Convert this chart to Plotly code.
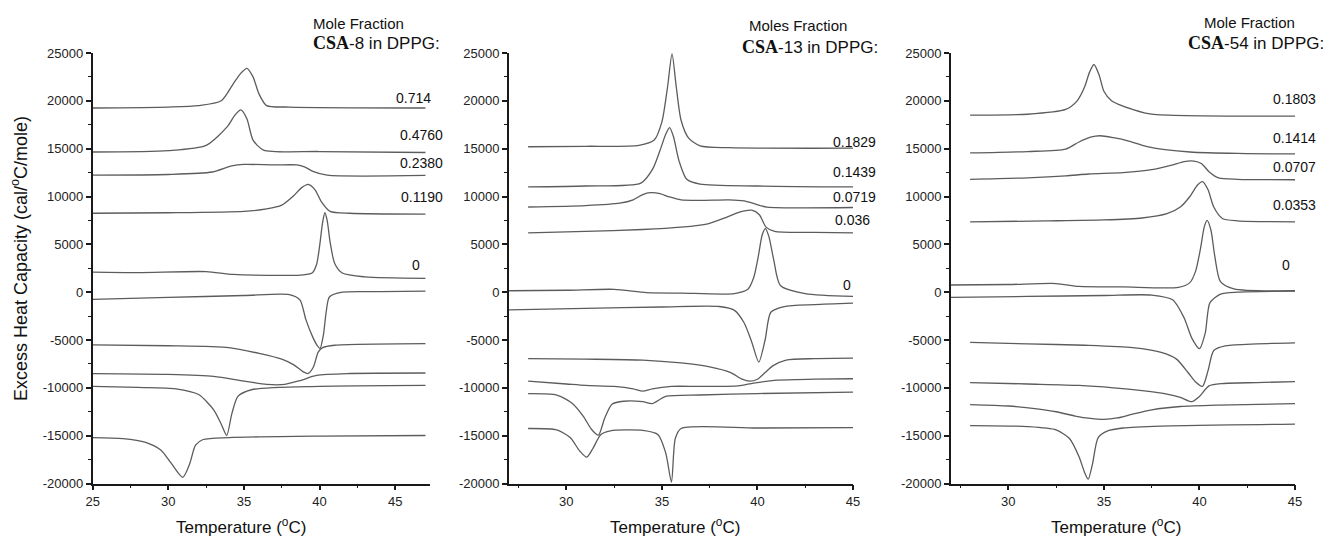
import plotly.graph_objects as go

# ---------------- data (Temperature degC, Cp cal/degC/mole) ----------------
# Panel 1: CSA-8 in DPPG
CSA8_H_0714 = [(25,19250),(30,19350),(32,19500),(33.5,20000),(34.3,21800),(34.8,22900),(35.2,23400),(35.6,22500),(36.0,20700),(36.5,19500),(38,19350),(47,19250)]
CSA8_H_4760 = [(25,14650),(30,14800),(32.5,15350),(33.9,17300),(34.4,18500),(34.8,19050),(35.2,18100),(35.6,15900),(36.3,14850),(40,14700),(47,14600)]
CSA8_H_2380 = [(25,12230),(30,12300),(32.9,12560),(34.2,13200),(35,13350),(37,13300),(38.5,13300),(39,13100),(39.6,12600),(40.5,12230),(47,12200)]
CSA8_H_1190 = [(25,8250),(30,8300),(35,8450),(36.5,8700),(37.5,9100),(38.3,10100),(38.8,10900),(39.25,11260),(39.7,10700),(40.1,9500),(40.7,8450),(42,8250),(47,8150)]
CSA8_H_0 = [(25,2100),(28,2050),(32.5,2150),(34.3,1850),(38.7,1780),(39.5,2000),(39.8,2900),(40.0,4800),(40.2,7300),(40.35,8300),(40.5,7500),(40.7,5200),(41.0,3000),(41.5,2000),(43,1600),(47,1450)]
CSA8_C_0 = [(25,-750),(30,-550),(35,-350),(38,-250),(38.7,-800),(39.1,-2900),(39.55,-4700),(39.85,-5600),(40.03,-5900),(40.25,-4500),(40.45,-1900),(40.65,-500),(41.5,0),(44,50),(47,100)]
CSA8_C_1190 = [(25,-5500),(30,-5600),(34,-5800),(36,-6400),(37.5,-7000),(38.3,-7600),(38.9,-8300),(39.25,-8500),(39.6,-7800),(39.9,-6300),(40.2,-5800),(41,-5550),(47,-5380)]
CSA8_C_2380 = [(25,-8520),(30,-8600),(33,-8800),(35,-9300),(36.5,-9640),(37.7,-9640),(38.7,-9250),(39.8,-8700),(42,-8500),(47,-8450)]
CSA8_C_4760 = [(25,-9850),(28,-9950),(30.5,-10100),(32,-10700),(33,-12300),(33.5,-13800),(33.86,-14980),(34.2,-12700),(34.6,-10900),(35.5,-10200),(40,-9850),(47,-9750)]
CSA8_C_0714 = [(25,-15200),(27,-15300),(28.5,-15700),(29.5,-16500),(30.2,-17900),(30.95,-19350),(31.4,-18000),(31.8,-16000),(32.3,-15400),(34,-15200),(40,-15050),(47,-14980)]

# Panel 2: CSA-13 in DPPG
CSA13_H_1829 = [(28,15200),(31,15250),(33.8,15350),(34.6,15900),(35.0,17800),(35.3,21500),(35.53,24900),(35.75,21500),(36.0,18000),(36.4,16100),(37,15300),(38.5,15100),(45,15050)]
CSA13_H_1439 = [(28,11000),(31,11100),(33.9,11400),(34.5,12800),(34.9,14800),(35.2,16500),(35.4,17200),(35.6,16300),(35.9,13700),(36.3,11800),(37,11300),(40,11100),(45,11000)]
CSA13_H_0719 = [(28,8900),(31,9050),(32.8,9300),(33.5,9650),(34.0,10200),(34.4,10400),(34.9,10300),(35.4,9950),(36.0,9650),(37,9600),(38.5,9650),(39.3,9550),(39.9,9200),(40.5,8900),(45,8850)]
CSA13_H_036 = [(28,6200),(31,6350),(34,6550),(36,6800),(37.4,7150),(38.4,7850),(39.1,8400),(39.7,8570),(40.1,8100),(40.45,6800),(40.9,6350),(43,6250),(45,6200)]
CSA13_H_0 = [(27,150),(30,200),(32.5,300),(34.2,-50),(36,-100),(38.8,-150),(39.5,300),(39.8,1500),(40.05,3800),(40.25,6000),(40.42,6650),(40.6,5800),(40.85,3400),(41.2,700),(42.5,-150),(45,-450)]
CSA13_C_0 = [(27,-1850),(31,-1700),(35,-1550),(38,-1500),(38.8,-1900),(39.3,-3200),(39.7,-5200),(40.07,-7300),(40.4,-5000),(40.7,-2100),(41.4,-1500),(43,-1300),(45,-1150)]
CSA13_C_036 = [(28,-6950),(31,-7000),(34,-7100),(36,-7400),(37.5,-7800),(38.6,-8400),(39.2,-9100),(39.6,-9300),(40.0,-9100),(40.4,-8400),(40.8,-7700),(41.5,-7100),(43,-6950),(45,-6900)]
CSA13_C_0719 = [(28,-9300),(30,-9600),(31,-9750),(32.5,-9850),(33.5,-10100),(34.0,-10350),(34.5,-10100),(35.5,-9850),(37,-9850),(39,-9800),(39.8,-9500),(41,-9200),(43,-9100),(45,-9050)]
CSA13_C_1439 = [(28,-10600),(29.5,-10750),(30.3,-11600),(30.9,-13000),(31.3,-14300),(31.68,-14950),(32.0,-13200),(32.4,-11700),(33,-11400),(34.0,-11450),(34.5,-11650),(35.2,-10900),(37,-10750),(40,-10600),(45,-10450)]
CSA13_C_1829 = [(28,-14250),(29.5,-14400),(30.2,-15200),(30.7,-16600),(31.07,-17250),(31.4,-16300),(31.8,-14900),(32.3,-14500),(34,-14450),(34.8,-14900),(35.2,-16800),(35.5,-19850),(35.7,-15300),(36.0,-14250),(40,-14200),(45,-14150)]

# Panel 3: CSA-54 in DPPG
CSA54_H_1803 = [(28,18500),(31,18600),(33,19100),(33.6,20000),(34.0,21500),(34.25,23000),(34.48,23800),(34.75,22700),(35.0,21000),(35.4,20000),(35.8,19600),(36.5,19100),(37.5,18600),(45,18400)]
CSA54_H_1414 = [(28,14550),(31,14700),(33.0,14950),(33.7,15700),(34.3,16200),(34.8,16350),(35.5,16150),(36.3,15800),(37.2,15250),(38.2,14900),(39.5,14650),(42,14500),(45,14450)]
CSA54_H_0707 = [(28,11800),(31,11950),(33,12150),(34.2,12350),(36,12500),(37.5,12800),(38.5,13250),(39.2,13650),(39.7,13700),(40.1,13450),(40.5,12600),(41.0,11950),(42,11800),(45,11750)]
CSA54_H_0353 = [(28,7350),(32,7450),(35,7550),(37,7750),(38.3,8200),(39.0,8900),(39.5,10000),(39.9,11200),(40.16,11550),(40.45,10700),(40.75,8900),(41.2,7700),(42,7450),(45,7350)]
CSA54_H_0 = [(27,750),(30,800),(32.5,900),(33.7,600),(36,550),(38.9,500),(39.5,1000),(39.8,2200),(40.05,4500),(40.25,6800),(40.4,7500),(40.6,6500),(40.8,3800),(41.1,1100),(41.8,350),(45,150)]
CSA54_C_0 = [(27,-550),(31,-450),(35,-350),(37.5,-300),(38.6,-800),(39.2,-2700),(39.6,-4800),(40.0,-5900),(40.3,-4300),(40.55,-1100),(41.1,-200),(42,0),(45,100)]
CSA54_C_0353 = [(28,-5250),(31,-5400),(34,-5550),(36.5,-5800),(38,-6300),(38.8,-7000),(39.4,-8400),(39.8,-9400),(40.16,-9850),(40.45,-8200),(40.75,-6100),(41.4,-5600),(43,-5400),(45,-5300)]
CSA54_C_0707 = [(28,-9450),(31,-9600),(33.7,-9750),(35.5,-10000),(37,-10300),(38.3,-10650),(39.0,-11000),(39.6,-11450),(40.0,-10900),(40.5,-9800),(41.2,-9550),(43,-9450),(45,-9350)]
CSA54_C_1414 = [(28,-11750),(30,-11900),(31.5,-12200),(32.5,-12500),(33.5,-12950),(34.3,-13200),(35.0,-13300),(35.7,-13150),(36.5,-12750),(37.5,-12300),(39,-11950),(41,-11800),(45,-11650)]
CSA54_C_1803 = [(28,-13950),(31,-14050),(32.5,-14400),(33.2,-15300),(33.7,-17200),(34.0,-18900),(34.18,-19550),(34.4,-18000),(34.7,-15200),(35.2,-14500),(36,-14200),(38,-14000),(45,-13800)]

PANEL_CURVES = [
    [CSA8_H_0714, CSA8_H_4760, CSA8_H_2380, CSA8_H_1190, CSA8_H_0,
     CSA8_C_0, CSA8_C_1190, CSA8_C_2380, CSA8_C_4760, CSA8_C_0714],
    [CSA13_H_1829, CSA13_H_1439, CSA13_H_0719, CSA13_H_036, CSA13_H_0,
     CSA13_C_0, CSA13_C_036, CSA13_C_0719, CSA13_C_1439, CSA13_C_1829],
    [CSA54_H_1803, CSA54_H_1414, CSA54_H_0707, CSA54_H_0353, CSA54_H_0,
     CSA54_C_0, CSA54_C_0353, CSA54_C_0707, CSA54_C_1414, CSA54_C_1803],
]

LABELS_CSA8 = ["0.714", "0.4760", "0.2380", "0.1190", "0"]
LABELS_CSA13 = ["0.1829", "0.1439", "0.0719", "0.036", "0"]
LABELS_CSA54 = ["0.1803", "0.1414", "0.0707", "0.0353", "0"]

HEADER_TOP = ["Mole Fraction", "Moles Fraction", "Mole Fraction"]
HEADER_CSA = ["8", "13", "54"]

X_TICKS = [25, 30, 35, 40, 45]
Y_TICKS = [-20000, -15000, -10000, -5000, 0, 5000, 10000, 15000, 20000, 25000]
Y_TICK_TEXT = [str(v) for v in Y_TICKS]
X_RANGES = [[25, 47.3], [27, 45], [27, 45]]
Y_RANGE = [-20000, 25000]

# the page body keeps the browser's 8px margin: size the figure so it fills the window
OFF = 8
W, H = 1333 - OFF, 537 - OFF
def px(x):
    return (x - OFF) / W
def py(y):
    return 1 - (y - OFF) / H

FONT = "Arial, Liberation Sans, sans-serif"
SERIF = "Liberation Serif, Times New Roman, serif"
LINE_COLOR = "#5c5c5c"
AXIS_COLOR = "#1a1a1a"

X_DOMAINS = [[px(92.7), px(430)], [px(509), px(853)], [px(951), px(1295)]]
Y_DOMAIN = [py(483.5), py(53)]

fig = go.Figure()

for i, curves in enumerate(PANEL_CURVES):
    xa = "x" if i == 0 else f"x{i+1}"
    ya = "y" if i == 0 else f"y{i+1}"
    for c in curves:
        fig.add_trace(go.Scatter(
            x=[p[0] for p in c], y=[p[1] for p in c],
            mode="lines", line=dict(color=LINE_COLOR, width=1.3, shape="spline", smoothing=0.7),
            xaxis=xa, yaxis=ya, showlegend=False, hoverinfo="skip"))

axis_common = dict(
    showline=True, linecolor=AXIS_COLOR, linewidth=1.8,
    ticks="outside", ticklen=5, tickwidth=1.5, tickcolor=AXIS_COLOR,
    showgrid=False, zeroline=False, automargin=False,
    tickfont=dict(family=FONT, size=13, color="#222"),
)

layout = dict(width=W, height=H, autosize=False,
              margin=dict(l=0, r=0, t=0, b=0, pad=0, autoexpand=False),
              paper_bgcolor="white", plot_bgcolor="white", showlegend=False)
for i in range(3):
    sx = "" if i == 0 else str(i + 1)
    layout[f"xaxis{sx}"] = dict(
        axis_common, domain=X_DOMAINS[i], range=X_RANGES[i], anchor=f"y{sx}",
        tickvals=X_TICKS, ticktext=[str(t) for t in X_TICKS],
        minor=dict(ticks="outside", ticklen=3, tickwidth=1.3, tickcolor=AXIS_COLOR, dtick=2.5, tick0=25))
    layout[f"yaxis{sx}"] = dict(
        axis_common, domain=Y_DOMAIN, range=Y_RANGE, anchor=f"x{sx}",
        tickvals=Y_TICKS, ticktext=Y_TICK_TEXT,
        minor=dict(ticks="outside", ticklen=3, tickwidth=1.3, tickcolor=AXIS_COLOR, dtick=2500, tick0=0))
fig.update_layout(**layout)

ann = []
def text(x, y, s, size=14, xanchor="center"):
    ann.append(dict(x=px(x), y=py(y), xref="paper", yref="paper", text=s, showarrow=False,
                    xanchor=xanchor, yanchor="middle", font=dict(family=FONT, size=size, color="#111")))

for cx in [241, 675, 1116]:
    text(cx, 526, "Temperature (<sup>o</sup>C)", size=17)
ann.append(dict(x=px(19), y=py(259), xref="paper", yref="paper",
                text="Excess Heat Capacity (cal/<sup>o</sup>C/mole)", textangle=-90,
                showarrow=False, xanchor="center", yanchor="middle",
                font=dict(family=FONT, size=18, color="#111")))

HEADER_POS = [((358, 23), (376, 43)), ((798, 26), (810, 47)), ((1249, 22), (1256, 43))]
for (p1, p2), top, num in zip(HEADER_POS, HEADER_TOP, HEADER_CSA):
    text(p1[0], p1[1], top, size=15)
    text(p2[0], p2[1],
         f"<span style='font-family:{SERIF};font-size:18px'><b>CSA</b></span>-" + num + " in DPPG:",
         size=17)

LABEL_POS = [
    [(433, 98), (445, 135), (445, 163), (445, 197), (422, 265)],
    [(878, 142), (878, 172), (878, 197), (872, 220), (853, 285)],
    [(1318, 99), (1318, 138), (1318, 167), (1318, 205), (1292, 265)],
]
for labels, pos in zip([LABELS_CSA8, LABELS_CSA13, LABELS_CSA54], LABEL_POS):
    for s, (x, y) in zip(labels, pos):
        text(x, y, s, size=14, xanchor="right")

fig.update_layout(annotations=ann)
fig.write_html("out.html")
